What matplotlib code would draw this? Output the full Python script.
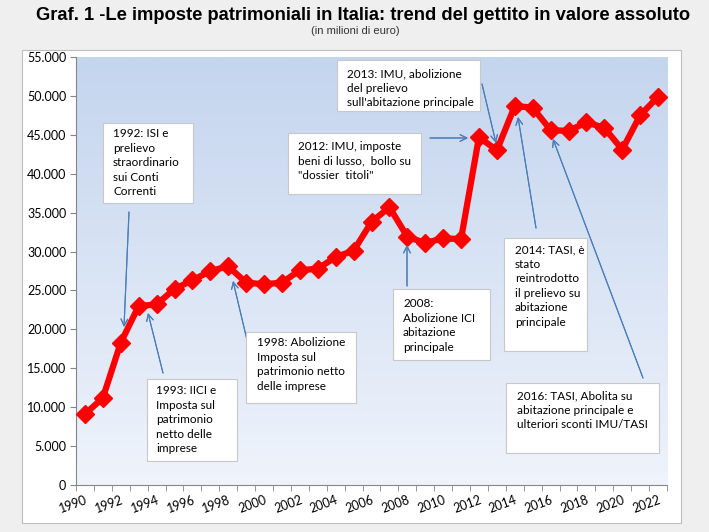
import matplotlib.pyplot as plt
import numpy as np
from matplotlib.patches import Rectangle
from matplotlib.colors import LinearSegmentedColormap

# Data: gettito imposte patrimoniali (milioni di euro)
years = list(range(1990, 2023))
gettito = [9100, 11200, 18300, 23000, 23200, 25200, 26300, 27500, 28100, 26000,
           25800, 26000, 27600, 27800, 29300, 30100, 33800, 35700, 31900, 31100,
           31700, 31600, 44700, 43000, 48700, 48500, 45600, 45500, 46600, 45900,
           43100, 47500, 49900]
y_ticks = list(range(0, 55001, 5000))

# Notes: text, box (x0, y0, x1, y1), text top-left, arrow (from, to) -- all in image pixels
note_texts = [
    "1992: ISI e\nprelievo\nstraordinario\nsui Conti\nCorrenti",
    "1993: IICI e\nImposta sul\npatrimonio\nnetto delle\nimprese",
    "1998: Abolizione\nImposta sul\npatrimonio netto\ndelle imprese",
    "2008:\nAbolizione ICI\nabitazione\nprincipale",
    "2012: IMU, imposte\nbeni di lusso,  bollo su\n\"dossier  titoli\"",
    "2013: IMU, abolizione\ndel prelievo\nsull'abitazione principale",
    "2014: TASI, è\nstato\nreintrodotto\nil prelievo su\nabitazione\nprincipale",
    "2016: TASI, Abolita su\nabitazione principale e\nulteriori sconti IMU/TASI",
]
note_boxes = [(103, 123, 193, 203), (147, 379, 237, 461), (246, 332, 356, 403),
              (393, 289, 490, 360), (288, 133, 421, 194), (337, 60, 480, 111),
              (504, 238, 587, 351), (506, 383, 659, 453)]
note_text_pos = [(113, 128), (156, 385), (257, 337), (403, 298), (298, 141),
                 (347, 68), (515, 244), (517, 390)]
note_arrows = [((129, 212), (124, 327)), ((163, 373), (148, 313)),
               ((247, 340), (233, 281)), ((407, 286), (407, 245)),
               ((430, 138), (468, 138)), ((482, 84), (496, 143)),
               ((536, 228), (518, 117)), ((643, 378), (553, 139))]

W, H = 709, 532
def fx(x): return x / W
def fy(y): return 1 - y / H

fig = plt.figure(figsize=(W / 100, H / 100), dpi=100, facecolor='#efefef')

# white chart area
fig.patches.append(Rectangle((fx(22), fy(523)), (681 - 22) / W, (523 - 50) / H,
                             transform=fig.transFigure, facecolor='white',
                             edgecolor='#bdbdbd', lw=0.8, zorder=-5))

fig.text(fx(363), fy(15), "Graf. 1 -Le imposte patrimoniali in Italia: trend del gettito in valore assoluto",
         ha='center', va='center', fontsize=13.2, fontweight='bold', family='Liberation Sans')
fig.text(fx(355), fy(31), "(in milioni di euro)", ha='center', va='center', fontsize=8,
         family=['Liberation Sans Narrow', 'Liberation Sans'], color='#333333')

ax = fig.add_axes([fx(76), fy(485), (667 - 76) / W, (485 - 57) / H])
ax.set_facecolor('none')
cmap = LinearSegmentedColormap.from_list('bg', ['#c4d5ee', '#eff3fb'])
ax.imshow(np.linspace(0, 1, 256).reshape(-1, 1), cmap=cmap, aspect='auto',
          extent=[-0.5, len(years) - 0.5, 0, 55000], zorder=0)

x = np.arange(len(years))
ax.plot(x, gettito, color='#ff0000', lw=4.5, marker='D', ms=9.5, zorder=3)

ax.set_xlim(-0.5, len(years) - 0.5)
ax.set_ylim(0, 55000)
ax.set_yticks(y_ticks)
ax.set_yticklabels([f"{v:,}".replace(',', '.') for v in y_ticks], family='Lato', fontsize=9)
ax.set_xticks(x[::2])
ax.set_xticklabels([str(y) for y in years[::2]], rotation=20, ha='right',
                   rotation_mode='anchor', family='Lato', fontsize=9)
ax.set_xticks(np.arange(-0.5, len(years), 1), minor=True)
ax.tick_params(axis='x', which='major', length=0, pad=6)
ax.tick_params(axis='x', which='minor', length=4, color='#868686')
ax.tick_params(axis='y', length=4, color='#868686', pad=3)
for s in ['top', 'right']:
    ax.spines[s].set_visible(False)
for s in ['left', 'bottom']:
    ax.spines[s].set_color('#868686')

# annotation boxes and arrows
for txt, box, tp, arr in zip(note_texts, note_boxes, note_text_pos, note_arrows):
    x0, y0, x1, y1 = box
    fig.patches.append(Rectangle((fx(x0), fy(y1)), (x1 - x0) / W, (y1 - y0) / H,
                                 transform=fig.transFigure, facecolor='white',
                                 edgecolor='#c8c8c8', lw=0.8, zorder=4))
    fig.text(fx(tp[0]), fy(tp[1]), txt, ha='left', va='top', fontsize=8.5,
             family='Lato', linespacing=1.4, zorder=5)
    (xa, ya), (xb, yb) = arr
    fig.add_artist(plt.annotate('', xy=(fx(xb), fy(yb)), xytext=(fx(xa), fy(ya)),
                   xycoords='figure fraction', textcoords='figure fraction',
                   arrowprops=dict(arrowstyle='->', color='#4a7ebb', lw=0.8,
                                   mutation_scale=12, shrinkA=0, shrinkB=0)))

fig.savefig('out.png', dpi=100, facecolor=fig.get_facecolor())
